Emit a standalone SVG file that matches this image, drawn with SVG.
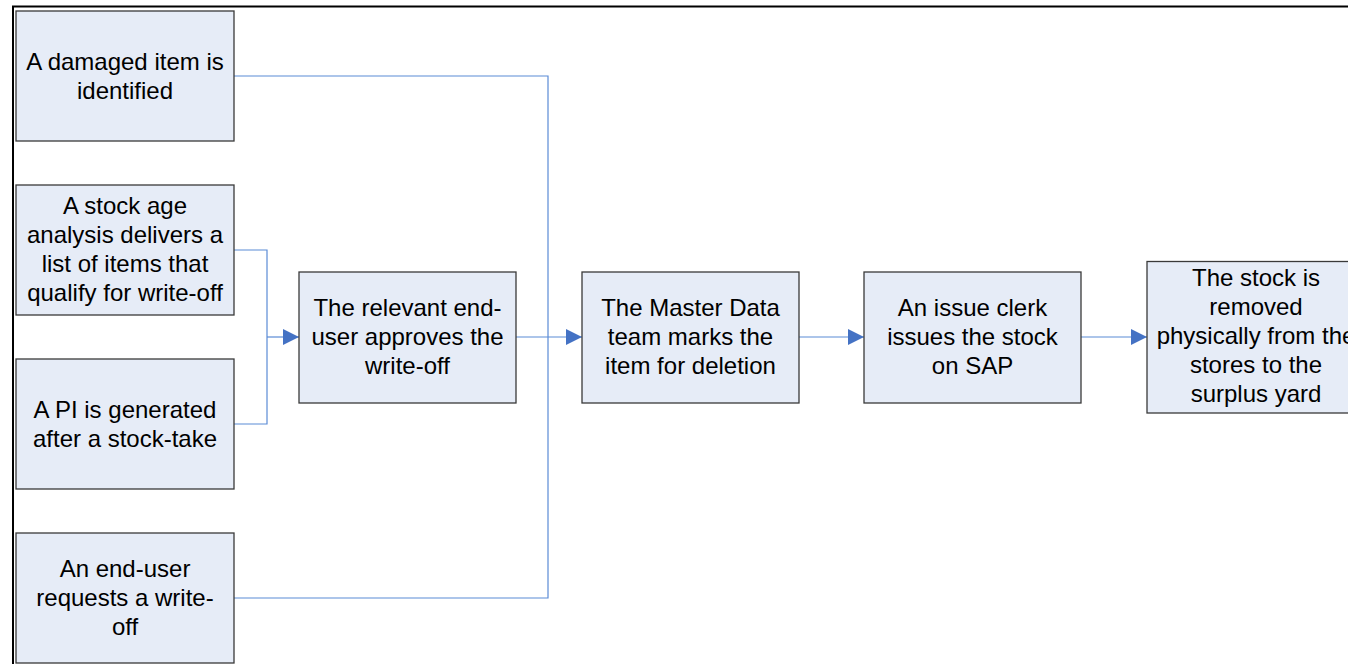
<svg xmlns="http://www.w3.org/2000/svg" width="1348" height="664" viewBox="0 0 1348 664">
  <style>
    .box { fill: #E6ECF7; stroke: #3A3A3A; stroke-width: 1.3; }
    .lbl { font-family: "Liberation Sans", Arial, sans-serif; font-size: 24px; fill: #000; text-anchor: middle; }
    .wire { fill: none; stroke: #5B8BD6; stroke-width: 1.2; }
    .frame { fill: none; stroke: #000; stroke-width: 2; }
  </style>
  <defs>
    <marker id="arrow" markerUnits="userSpaceOnUse" markerWidth="17" markerHeight="17" refX="16" refY="8" orient="auto">
      <path d="M0,0 L16,8 L0,16 Z" fill="#4472C4"/>
    </marker>
  </defs>

  <rect width="1348" height="664" fill="#fff"/>
  <!-- page frame -->
  <rect class="frame" x="13" y="6.5" width="1400" height="700"/>

  <!-- connectors -->
  <g id="connectors">
    <polyline class="wire" points="234,76 548,76 548,598 234,598"/>
    <polyline class="wire" points="234,250 267,250 267,424 234,424"/>
    <line class="wire" x1="267" y1="337" x2="299" y2="337" marker-end="url(#arrow)"/>
    <line class="wire" x1="516" y1="337" x2="582" y2="337" marker-end="url(#arrow)"/>
    <line class="wire" x1="798" y1="337" x2="864" y2="337" marker-end="url(#arrow)"/>
    <line class="wire" x1="1081" y1="337" x2="1147" y2="337" marker-end="url(#arrow)"/>
  </g>

  <g id="damaged-item">
    <rect class="box" x="16" y="11" width="218" height="130"/>
    <text class="lbl" x="125" y="69.5">A damaged item is</text>
    <text class="lbl" x="125" y="98.5">identified</text>
  </g>

  <g id="stock-age-analysis">
    <rect class="box" x="16" y="185" width="218" height="130"/>
    <text class="lbl" x="125" y="213.5">A stock age</text>
    <text class="lbl" x="125" y="242.5">analysis delivers a</text>
    <text class="lbl" x="125" y="271.5">list of items that</text>
    <text class="lbl" x="125" y="300.5">qualify for write-off</text>
  </g>

  <g id="pi-generated">
    <rect class="box" x="16" y="359" width="218" height="130"/>
    <text class="lbl" x="125" y="417.5">A PI is generated</text>
    <text class="lbl" x="125" y="446.5">after a stock-take</text>
  </g>

  <g id="end-user-request">
    <rect class="box" x="16" y="533" width="218" height="130"/>
    <text class="lbl" x="125" y="577">An end-user</text>
    <text class="lbl" x="125" y="606">requests a write-</text>
    <text class="lbl" x="125" y="635">off</text>
  </g>

  <g id="end-user-approves">
    <rect class="box" x="299" y="272" width="217" height="131"/>
    <text class="lbl" x="407.5" y="315.5">The relevant end-</text>
    <text class="lbl" x="407.5" y="344.5">user approves the</text>
    <text class="lbl" x="407.5" y="373.5">write-off</text>
  </g>

  <g id="master-data">
    <rect class="box" x="582" y="272" width="217" height="131"/>
    <text class="lbl" x="690.5" y="315.5">The Master Data</text>
    <text class="lbl" x="690.5" y="344.5">team marks the</text>
    <text class="lbl" x="690.5" y="373.5">item for deletion</text>
  </g>

  <g id="issue-clerk">
    <rect class="box" x="864" y="272" width="217" height="131"/>
    <text class="lbl" x="972.5" y="315.5">An issue clerk</text>
    <text class="lbl" x="972.5" y="344.5">issues the stock</text>
    <text class="lbl" x="972.5" y="373.5">on SAP</text>
  </g>

  <g id="stock-removed">
    <rect class="box" x="1147" y="261.5" width="218" height="151.5"/>
    <text class="lbl" x="1256" y="285.5">The stock is</text>
    <text class="lbl" x="1256" y="314.5">removed</text>
    <text class="lbl" x="1256" y="343.5">physically from the</text>
    <text class="lbl" x="1256" y="372.5">stores to the</text>
    <text class="lbl" x="1256" y="401.5">surplus yard</text>
  </g>
</svg>
